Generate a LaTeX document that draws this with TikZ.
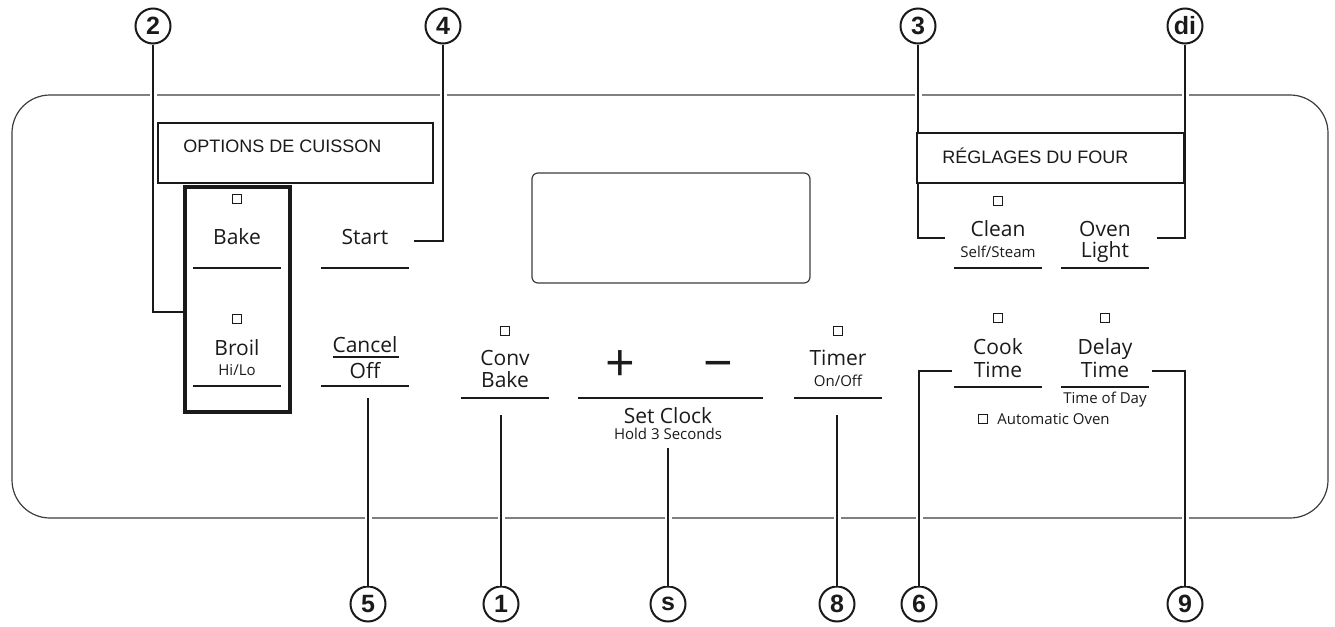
\documentclass[tikz,border=0pt]{standalone}
\usepackage{fontspec}
\setmainfont{Liberation Sans}
\newfontfamily\panelfont{Open Sans}
\usetikzlibrary{calc}
\definecolor{ink}{HTML}{1A1A1A}
\definecolor{edge}{HTML}{3C3C3C}
\newcommand{\Btn}{\panelfont\fontsize{10.5}{12}\selectfont}
\newcommand{\Sub}{\panelfont\fontsize{7.5}{9}\selectfont}
\newcommand{\Tag}{\fontsize{9}{11}\selectfont}

\begin{document}
\begin{tikzpicture}[x=0.5pt,y=-0.5pt, font=\Btn,
    led/.style={draw=ink,line width=0.45pt,minimum size=4.2pt,inner sep=0pt},
    rule/.style={ink,line width=0.75pt},
    txt/.style={anchor=base,text=ink,inner sep=0pt},
    callnum/.style={circle,draw=ink,line width=1pt,minimum size=17.5pt,inner sep=0pt,text=ink,font=\bfseries\fontsize{12.5}{14}\selectfont},
    lead/.style={ink,line width=1pt,preaction={draw=white,line width=3.5pt}},
    tagbox/.style={draw=ink,line width=1pt}]
  \useasboundingbox (0,0) rectangle (1335,627);
  % panel and display
  \draw[edge,line width=0.6pt,rounded corners=19pt] (12,95) rectangle (1328,518);
  \draw[edge,line width=0.6pt,rounded corners=3pt] (532,173) rectangle (810,283);

  % callout numbers
  \foreach \nm/\x/\y/\t in {n2/153/26/2, n4/443/26/4, n3/918/26/3, ndi/1185/26/di,
      n5/368/604/5, n1/501/604/1, ns/668/604/s, n8/837/604/8, n6/919/604/6, n9/1185/604/9}{
    \node[callnum] (\nm) at (\x,\y) {\t};}
  \coordinate (c2) at (185,312);
  \coordinate (c4) at (414,241);
  \coordinate (c3) at (945,238);
  \coordinate (cdi) at (1157,238);
  \coordinate (c5) at (368,398);
  \coordinate (c1) at (501,415);
  \coordinate (cs) at (668,448);
  \coordinate (c8) at (837,415);
  \coordinate (c6) at (952,371);
  \coordinate (c9) at (1152,371);
  \draw[lead] (n2) |- (c2);
  \draw[lead] (n4) |- (c4);
  \draw[lead] (n3) |- (c3);
  \draw[lead] (ndi) |- (cdi);
  \foreach \a/\b in {c5/n5, c1/n1, cs/ns, c8/n8}{\draw[lead] (\a) -- (\b);}
  \draw[lead] (c6) -| (n6);
  \draw[lead] (c9) -| (n9);

  % group labels
  \draw[tagbox,fill=white] (158,123) rectangle (433,183);
  \node[txt,anchor=base west,font=\Tag] (opt) at (183,152) {OPTIONS DE CUISSON};
  \draw[tagbox,fill=white] (917,133) rectangle (1184,183);
  \node[txt,anchor=base west,font=\Tag] (reg) at (942,163) {RÉGLAGES DU FOUR};
  \draw[ink,line width=2pt] (185,187) rectangle (290,412);

  % indicator lamps
  \foreach \nm/\x/\y in {lbake/237/199, lbroil/237/319, lconv/505/331, ltimer/838/331,
      lclean/998/201, lcook/998/318, ldelay/1105/318, lauto/983/419}{
    \node[led] (\nm) at (\x,\y) {};}

  % key underlines
  \foreach \x/\y in {237/268, 237/386, 365/268, 365/386, 505/398, 838/398,
      998/268, 1105/268, 998/387, 1105/387}{
    \draw[rule] (\x-44,\y) -- (\x+44,\y);}
  \draw[rule] (578,398) -- (763,398);
  \draw[rule] (333,357) -- (399,357);

  % key texts
  \node[txt] (bake) at (237,244) {Bake};
  \node[txt] (broil) at (237,355) {Broil};
  \node[txt,font=\Sub] (hilo) at (237,375) {Hi/Lo};
  \node[txt] (start) at (365,244) {Start};
  \node[txt] (cancel) at (365,352) {Cancel};
  \node[txt] (off) at (365,378) {Off};
  \node[txt] (conv) at (505,365) {Conv};
  \node[txt] (convb) at (505,387) {Bake};
  \node[txt,font=\panelfont\fontsize{26}{28}\selectfont] (plus) at (620,381) {+};
  \node[txt,font=\panelfont\fontsize{26}{28}\selectfont] (minus) at (718,381) {−};
  \node[txt] (clock) at (668,423) {Set Clock};
  \node[txt,font=\Sub] (hold) at (668,439) {Hold 3 Seconds};
  \node[txt] (timer) at (838,365) {Timer};
  \node[txt,font=\Sub] (onoff) at (838,386) {On/Off};
  \node[txt] (clean) at (998,236) {Clean};
  \node[txt,font=\Sub] (steam) at (998,257) {Self/Steam};
  \node[txt] (oven) at (1105,236) {Oven};
  \node[txt] (light) at (1105,257) {Light};
  \node[txt] (cook) at (998,354) {Cook};
  \node[txt] (cookt) at (998,377) {Time};
  \node[txt] (delay) at (1105,354) {Delay};
  \node[txt] (delayt) at (1105,377) {Time};
  \node[txt,font=\Sub] (tod) at (1105,403) {Time of Day};
  \node[txt,anchor=base west,font=\Sub] (auto) at (997,424) {Automatic Oven};
\end{tikzpicture}
\end{document}
